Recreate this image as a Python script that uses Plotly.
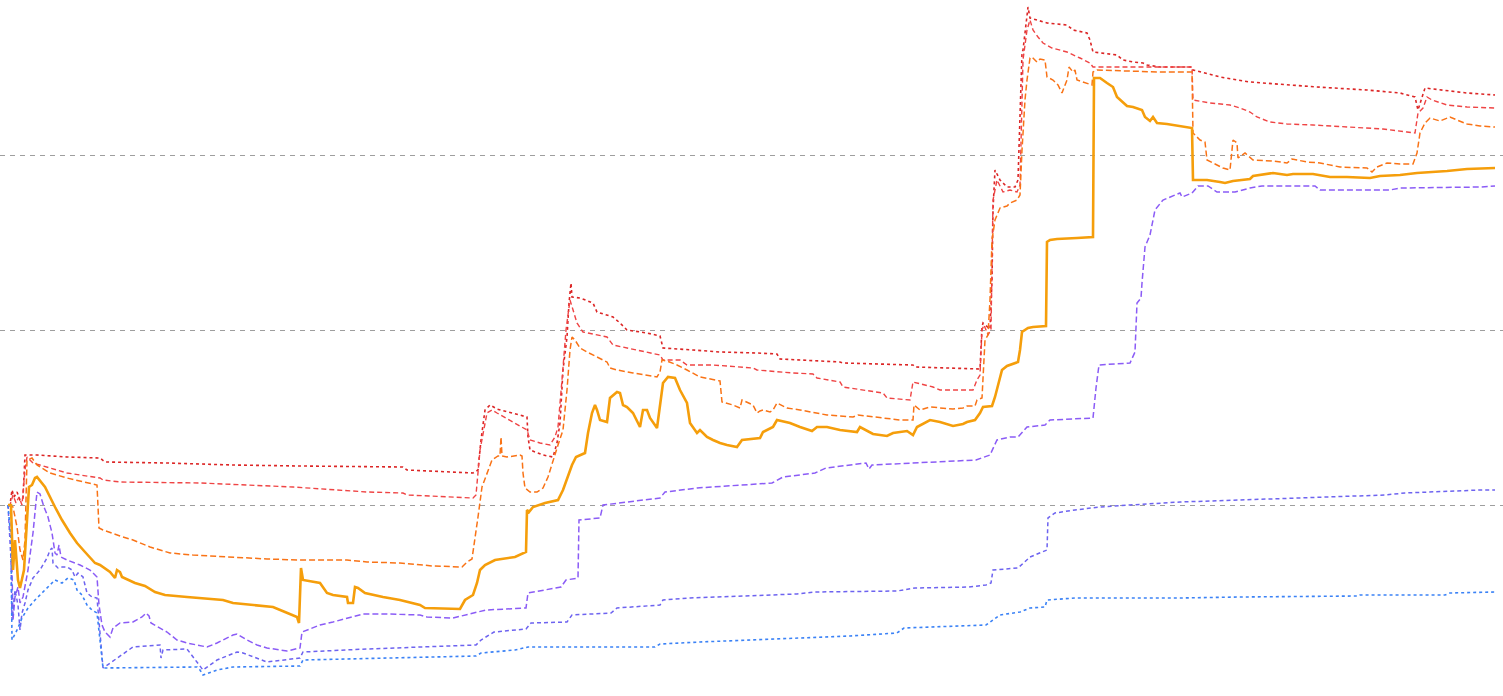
import plotly.graph_objects as go

# ---- data (time index, value) ----
price_x = [8,11,13,15,18,20,24,27,29,32,35,37,45,55,62,70,77,85,95,100,110,115,117,120,122,135,145,155,165,187,223,233,273,285,297,299,301,303,320,327,333,347,348,353,355,358,365,383,400,420,425,460,465,473,477,480,485,495,515,526,527,529,533,545,558,563,568,572,576,585,588,592,595,597,600,607,610,617,620,623,627,633,640,643,647,650,657,660,663,668,675,680,687,690,697,700,707,713,720,727,737,742,760,763,773,777,790,800,812,817,827,840,857,860,867,873,887,893,907,913,917,930,940,953,963,967,975,980,983,992,995,1002,1007,1018,1020,1022,1028,1033,1046,1047,1050,1057,1077,1093,1094,1100,1107,1113,1117,1123,1127,1133,1142,1145,1150,1153,1157,1167,1180,1192,1193,1200,1207,1220,1225,1233,1240,1250,1253,1273,1280,1287,1293,1313,1330,1347,1370,1380,1400,1417,1447,1467,1495]
price_y = [175,175,110,140,100,92,110,155,193,195,202,203,193,173,160,147,137,128,117,115,108,102,110,108,103,97,94,88,85,83,80,77,73,68,63,57,112,100,97,87,85,83,77,77,93,92,87,83,80,75,72,71,80,85,97,110,115,120,123,128,170,168,173,177,180,190,205,215,223,227,247,267,275,270,260,258,282,288,287,275,273,267,253,270,270,262,252,277,297,303,302,290,277,257,247,250,243,240,237,235,233,240,242,248,253,260,257,253,249,253,253,250,248,253,249,246,244,247,249,245,253,260,258,254,256,258,260,267,273,274,283,310,314,318,330,348,352,353,354,438,440,441,442,443,602,602,597,593,583,578,574,573,570,563,559,563,557,556,554,552,500,500,500,498,497,499,500,501,504,507,506,505,506,506,503,503,502,504,505,507,509,511,512]

upper_x = [8,13,17,20,23,25,27,32,37,50,67,83,97,99,103,120,133,150,170,193,227,267,300,347,367,400,423,433,462,467,472,475,478,482,487,492,498,500,501,502,507,520,522,523,525,530,537,543,548,553,558,563,567,570,572,575,580,587,600,607,610,617,633,657,660,662,667,677,687,700,720,722,733,740,742,753,757,760,763,770,773,777,787,800,827,853,858,873,900,913,914,920,930,953,963,967,975,977,982,985,988,990,992,995,1000,1007,1010,1017,1020,1022,1025,1027,1030,1032,1037,1040,1045,1047,1053,1058,1062,1067,1069,1073,1075,1077,1085,1092,1093,1097,1127,1160,1192,1193,1200,1205,1207,1213,1223,1230,1232,1233,1237,1238,1245,1253,1273,1287,1292,1307,1320,1340,1367,1372,1377,1387,1400,1413,1417,1420,1425,1430,1440,1450,1457,1467,1480,1495]
upper_y = [175,173,153,130,120,140,220,222,215,207,202,198,195,152,150,144,140,133,127,125,123,121,120,120,118,117,115,114,113,118,121,140,163,193,207,220,224,224,243,224,223,225,224,207,192,188,188,192,203,220,235,250,290,330,343,340,332,328,322,318,312,310,307,303,308,320,319,315,310,303,299,278,275,272,280,275,267,269,270,268,270,277,272,270,265,263,265,263,260,260,275,270,273,271,272,274,274,280,282,340,345,380,440,460,472,474,477,480,485,530,580,600,622,623,618,621,620,603,600,595,587,600,613,608,610,600,597,595,608,610,609,608,608,547,540,538,520,517,512,510,533,540,537,522,527,520,519,517,521,518,517,513,512,508,513,517,516,516,527,547,557,562,559,563,560,556,554,553]

top_x = [8,10,12,14,17,20,23,25,37,67,100,105,167,233,300,367,403,407,433,473,478,481,485,490,497,527,528,530,543,553,557,560,563,567,569,571,572,580,593,597,613,620,627,647,660,663,693,720,757,777,780,840,843,913,915,980,982,983,990,992,993,995,1000,1007,1015,1018,1022,1023,1025,1028,1030,1047,1067,1073,1087,1090,1093,1107,1117,1123,1133,1143,1147,1160,1192,1193,1200,1220,1250,1300,1317,1350,1367,1400,1415,1418,1425,1433,1467,1495]
top_y = [175,175,190,183,188,180,182,225,225,223,222,218,217,215,214,213,213,210,209,207,210,240,270,275,271,263,243,230,225,223,237,257,310,343,377,397,383,382,377,368,363,357,350,347,344,332,330,328,327,326,321,318,317,315,313,311,353,357,351,400,470,510,500,493,493,500,627,630,647,673,662,657,655,650,647,640,628,626,625,620,618,617,615,613,613,610,608,603,598,594,593,591,590,587,583,570,592,591,587,585]

mid_x = [8,10,13,16,19,22,25,27,33,67,100,103,120,200,293,367,403,407,473,476,480,483,487,492,497,527,530,540,550,555,558,562,566,570,572,577,583,597,607,613,627,647,660,663,680,687,713,753,757,793,813,817,840,843,883,887,910,913,933,940,973,977,980,982,984,988,991,993,997,1003,1010,1017,1020,1023,1027,1030,1033,1038,1043,1052,1067,1080,1090,1093,1192,1193,1210,1230,1240,1250,1257,1270,1287,1313,1347,1383,1407,1415,1418,1423,1427,1432,1447,1467,1495]
mid_y = [175,175,185,177,183,175,210,223,217,207,202,200,198,197,193,188,187,185,182,185,230,247,267,270,267,250,240,237,235,243,253,300,350,380,373,357,348,345,343,335,332,328,325,320,320,315,315,312,310,307,306,302,298,293,287,282,280,298,293,290,290,300,305,350,355,345,350,480,500,488,490,488,495,620,650,660,650,643,637,632,628,622,617,613,613,580,577,575,572,568,563,558,556,555,553,551,548,547,567,572,583,580,575,573,572]

base_x = [8,11,12,13,15,18,20,23,28,33,37,40,44,48,52,55,57,59,61,67,80,90,97,99,102,105,110,113,120,133,142,146,149,151,167,177,187,207,217,233,237,247,257,267,287,300,302,320,333,353,363,387,420,427,453,486,526,528,545,561,566,578,579,600,603,660,665,697,772,783,815,826,866,869,872,911,976,990,997,1010,1018,1027,1045,1050,1093,1096,1099,1130,1135,1137,1141,1142,1145,1150,1155,1163,1180,1182,1192,1198,1208,1217,1235,1250,1262,1315,1320,1390,1400,1480,1495]
base_y = [175,173,110,60,83,93,77,83,110,147,188,186,173,163,147,127,125,135,123,120,115,110,103,75,55,48,43,52,57,58,63,67,64,57,48,40,37,33,37,45,46,40,35,32,29,32,48,55,58,63,66,66,65,63,62,70,72,87,90,93,100,102,160,162,175,182,188,192,197,203,207,212,217,211,215,217,220,225,240,243,243,253,255,260,262,292,315,317,328,377,382,397,433,445,470,480,487,483,487,494,494,488,488,492,494,494,490,490,492,493,494]

low_x = [8,11,12,15,18,20,22,25,28,33,40,47,50,52,53,58,62,67,72,75,78,83,87,92,97,99,101,103,133,160,161,163,187,193,200,203,217,237,243,257,267,300,303,367,433,476,481,494,526,531,567,572,611,617,660,663,690,736,797,815,897,915,969,986,991,993,1018,1030,1043,1047,1048,1055,1075,1100,1130,1150,1180,1240,1300,1322,1355,1385,1405,1445,1480,1495]
low_y = [175,120,60,90,75,50,67,77,90,102,110,122,130,132,117,112,113,113,110,103,107,103,87,83,82,60,30,12,33,35,22,30,31,23,13,10,20,28,27,22,18,22,28,31,33,35,40,48,51,57,58,65,67,72,75,80,82,84,86,88,89,92,93,95,97,110,112,123,128,130,162,167,170,173,175,176,178,180,182,183,184,185,187,189,190,190]

floor_x = [8,11,12,18,22,28,35,45,55,62,68,74,77,82,87,92,97,100,103,197,200,203,217,233,300,303,373,433,476,481,515,528,655,660,700,760,800,850,897,904,986,993,1000,1020,1030,1045,1047,1075,1180,1240,1358,1360,1445,1450,1495]
floor_y = [175,140,40,52,62,72,80,90,100,97,102,100,90,85,75,70,67,40,12,13,10,5,10,13,14,20,22,23,24,27,30,33,33,36,38,40,42,44,47,52,55,60,65,68,72,73,80,82,82,83,84,85,85,87,88]

grid_values = [175, 350, 525]

series = [
    (top_x, top_y, "#dc2626", 1.6, "3px,3px"),
    (mid_x, mid_y, "#ef4444", 1.4, "5px,3px"),
    (upper_x, upper_y, "#f97316", 1.5, "6px,3px"),
    (base_x, base_y, "#8b5cf6", 1.5, "6px,3px"),
    (low_x, low_y, "#6d63f0", 1.5, "4px,3px"),
    (floor_x, floor_y, "#3b82f6", 1.6, "3px,3px"),
    (price_x, price_y, "#f59e0b", 2.6, "solid"),
]

fig = go.Figure()
for xs, ys, color, width, dash in series:
    fig.add_trace(go.Scatter(x=xs, y=ys, mode="lines",
                             line=dict(color=color, width=width, dash=dash),
                             hoverinfo="skip"))

fig.update_layout(
    width=1503, height=696,
    margin=dict(l=0, r=0, t=0, b=0),
    paper_bgcolor="white", plot_bgcolor="white",
    showlegend=False,
    xaxis=dict(range=[0, 1503], visible=False, showgrid=False, zeroline=False),
    yaxis=dict(range=[-16, 680], tickmode="array", tickvals=grid_values,
               showticklabels=False, ticks="", showgrid=True,
               gridcolor="#9e9e9e", gridwidth=1, griddash="5px,5px",
               zeroline=False, showline=False),
)

fig.write_html(
    "out.html",
    config={"displayModeBar": False},
    post_script="document.body.style.margin='0';document.body.style.overflow='hidden';",
)
